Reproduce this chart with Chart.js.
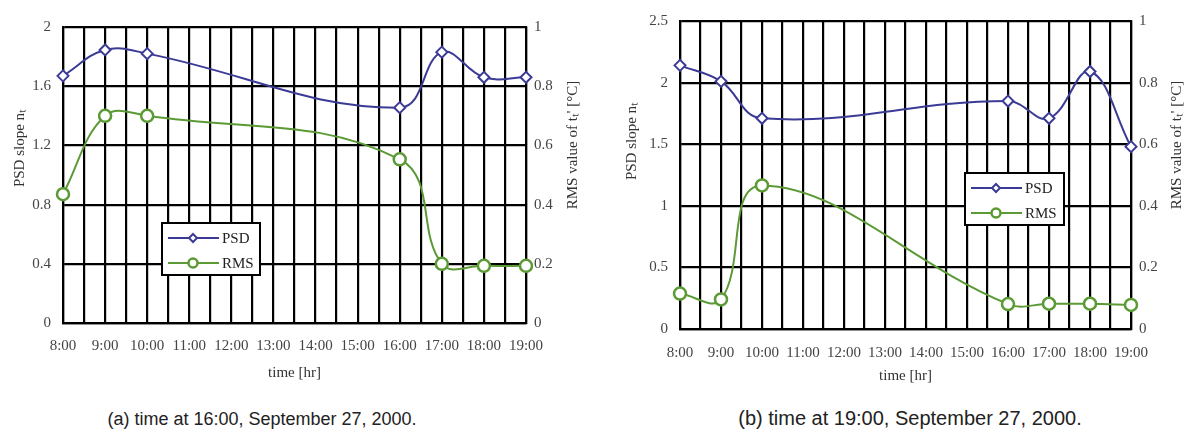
<!DOCTYPE html>
<html>
<head>
<meta charset="utf-8">
<script src="https://cdn.jsdelivr.net/npm/chart.js@4.4.0/dist/chart.umd.min.js"></script>
<style>
  body { margin: 0; background: #fff; }
  #wrap { position: relative; width: 1185px; height: 441px; }
  canvas { position: absolute; top: 0; }
  .cap { position: absolute; font-family: 'Liberation Sans', Arial, sans-serif; color: #222; white-space: nowrap; transform: translateX(-50%); }
</style>
</head>
<body>
<div id="wrap">
  <canvas id="chartA" width="590" height="390" style="left:0"></canvas>
  <canvas id="chartB" width="595" height="390" style="left:590px"></canvas>
  <div class="cap" style="left:262px; top:409px; font-size:18px;">(a) time at 16:00, September 27, 2000.</div>
  <div class="cap" style="left:910px; top:407px; font-size:20px;">(b) time at 19:00, September 27, 2000.</div>
</div>
<script>
// hours of the measurements
let hours = [8, 9, 10, 16, 17, 18, 19]

// (a) 16:00
let psdA = [1.67, 1.845, 1.82, 1.455, 1.83, 1.66, 1.66]
let rmsA = [0.435, 0.70, 0.70, 0.553, 0.20, 0.193, 0.193]

// (b) 19:00
let psdB = [2.14, 2.01, 1.71, 1.85, 1.71, 2.09, 1.48]
let rmsB = [0.115, 0.096, 0.466, 0.081, 0.082, 0.082, 0.078]

let psdColor = '#3b3b96'
let rmsColor = '#5b9a35'
let serif = "'Liberation Serif', 'Times New Roman', serif"

function pts(ys) {
    return hours.map((h, i) => ({ x: h, y: ys[i] }))
}

function fmt(v) {
    return String(Number(v.toFixed(2)))
}

function drawDiamond(ctx, x, y, r) {
    ctx.beginPath()
    ctx.moveTo(x, y - r); ctx.lineTo(x + r, y); ctx.lineTo(x, y + r); ctx.lineTo(x - r, y)
    ctx.closePath()
    ctx.fillStyle = '#fff'; ctx.fill()
    ctx.strokeStyle = psdColor; ctx.lineWidth = 2; ctx.stroke()
}

function drawCircle(ctx, x, y, r) {
    ctx.beginPath()
    ctx.arc(x, y, r, 0, Math.PI * 2)
    ctx.fillStyle = '#fff'; ctx.fill()
    ctx.strokeStyle = rmsColor; ctx.lineWidth = 2.5; ctx.stroke()
}

// axis titles + legend box drawn on canvas
let extras = {
    id: 'extras',
    afterDraw(chart, args, o) {
        let ctx = chart.ctx
        let a = chart.chartArea
        ctx.save()
        ctx.fillStyle = '#333'
        ctx.font = '15px ' + serif
        ctx.textAlign = 'center'
        ctx.textBaseline = 'middle'
        // x title
        ctx.fillText('time [hr]', (a.left + a.right) / 2, o.xTitleY)
        // left title
        ctx.save()
        ctx.translate(o.leftTitleX, o.leftTitleY)
        ctx.rotate(-Math.PI / 2)
        ctx.fillText('PSD slope n\u209C', 0, 0)
        ctx.restore()
        // right title
        ctx.save()
        ctx.translate(o.rightTitleX, o.rightTitleY)
        ctx.rotate(-Math.PI / 2)
        ctx.fillText("RMS value of t\u209C' [\u00B0C]", 0, 0)
        ctx.restore()

        // legend
        let b = o.box
        ctx.fillStyle = '#fff'
        ctx.fillRect(b.x, b.y, b.w, b.h)
        ctx.strokeStyle = '#000'
        ctx.lineWidth = 2
        ctx.strokeRect(b.x, b.y, b.w, b.h)
        let rows = [[psdColor, 'PSD', drawDiamond, 4], [rmsColor, 'RMS', drawCircle, 4.5]]
        rows.forEach((r, i) => {
            let y = b.y + 15 + i * 25
            ctx.strokeStyle = r[0]
            ctx.lineWidth = 2
            ctx.beginPath()
            ctx.moveTo(b.x + 6, y); ctx.lineTo(b.x + 57, y)
            ctx.stroke()
            r[2](ctx, b.x + 31, y, r[3])
            ctx.fillStyle = '#222'
            ctx.font = '15px ' + serif
            ctx.textAlign = 'left'
            ctx.fillText(r[1], b.x + 60, y + 1)
        })
        ctx.restore()
    }
}

function makeChart(id, psd, rms, cfg) {
    let canvas = document.getElementById(id)
    let W = canvas.width, H = canvas.height
    return new Chart(canvas.getContext('2d'), {
        type: 'line',
        data: {
            datasets: [{
                label: 'PSD',
                data: pts(psd),
                yAxisID: 'y',
                borderColor: psdColor,
                borderWidth: 2,
                tension: 0.4,
                pointStyle: 'rectRot',
                pointRadius: 5.5,
                pointBorderWidth: 2,
                pointBackgroundColor: '#fff',
                pointBorderColor: psdColor,
                clip: false
            }, {
                label: 'RMS',
                data: pts(rms),
                yAxisID: 'y1',
                borderColor: rmsColor,
                borderWidth: 2,
                tension: 0.4,
                pointStyle: 'circle',
                pointRadius: 6,
                pointBorderWidth: 2.5,
                pointBackgroundColor: '#fff',
                pointBorderColor: rmsColor,
                clip: false
            }]
        },
        options: {
            responsive: false,
            animation: false,
            layout: { padding: { top: cfg.top, left: 0, right: 0, bottom: 0 } },
            plugins: {
                legend: { display: false },
                tooltip: { enabled: false },
                extras: cfg.extras
            },
            scales: {
                x: {
                    type: 'linear',
                    min: 8, max: 19,
                    afterFit: s => { s.height = H - cfg.bottom },
                    grid: { color: '#000', lineWidth: 2.2, drawTicks: false },
                    border: { color: '#000', width: 2.2 },
                    ticks: {
                        stepSize: 0.5,
                        autoSkip: false,
                        maxRotation: 0,
                        padding: cfg.xPad,
                        color: '#444',
                        font: { family: serif, size: 15 },
                        callback: v => Number.isInteger(v) ? v + ':00' : ''
                    }
                },
                y: {
                    position: 'left',
                    min: 0, max: cfg.yMax,
                    afterFit: s => { s.width = cfg.left },
                    grid: { color: '#000', lineWidth: 2.2, drawTicks: false },
                    border: { color: '#000', width: 2.2 },
                    ticks: {
                        stepSize: cfg.yStep,
                        padding: 12,
                        color: '#444',
                        font: { family: serif, size: 15 },
                        callback: fmt
                    }
                },
                y1: {
                    position: 'right',
                    min: 0, max: 1,
                    afterFit: s => { s.width = W - cfg.right },
                    grid: { drawOnChartArea: false, drawTicks: false },
                    border: { color: '#000', width: 2.2 },
                    ticks: {
                        stepSize: 0.2,
                        padding: 8,
                        color: '#444',
                        font: { family: serif, size: 15 },
                        callback: fmt
                    }
                }
            }
        },
        plugins: [extras]
    })
}

let chartA = makeChart('chartA', psdA, rmsA, {
    top: 27, bottom: 323, left: 63, right: 526,
    yMax: 2, yStep: 0.4, xPad: 14,
    extras: {
        xTitleY: 373, leftTitleX: 20, leftTitleY: 148, rightTitleX: 573, rightTitleY: 145,
        box: { x: 162, y: 223, w: 98, h: 52 }
    }
})

let chartB = makeChart('chartB', psdB, rmsB, {
    top: 20, bottom: 329, left: 90, right: 541,
    yMax: 2.5, yStep: 0.5, xPad: 15,
    extras: {
        xTitleY: 376, leftTitleX: 42, leftTitleY: 141, rightTitleX: 587, rightTitleY: 145,
        box: { x: 375, y: 173, w: 99, h: 52 }
    }
})
</script>
</body>
</html>
